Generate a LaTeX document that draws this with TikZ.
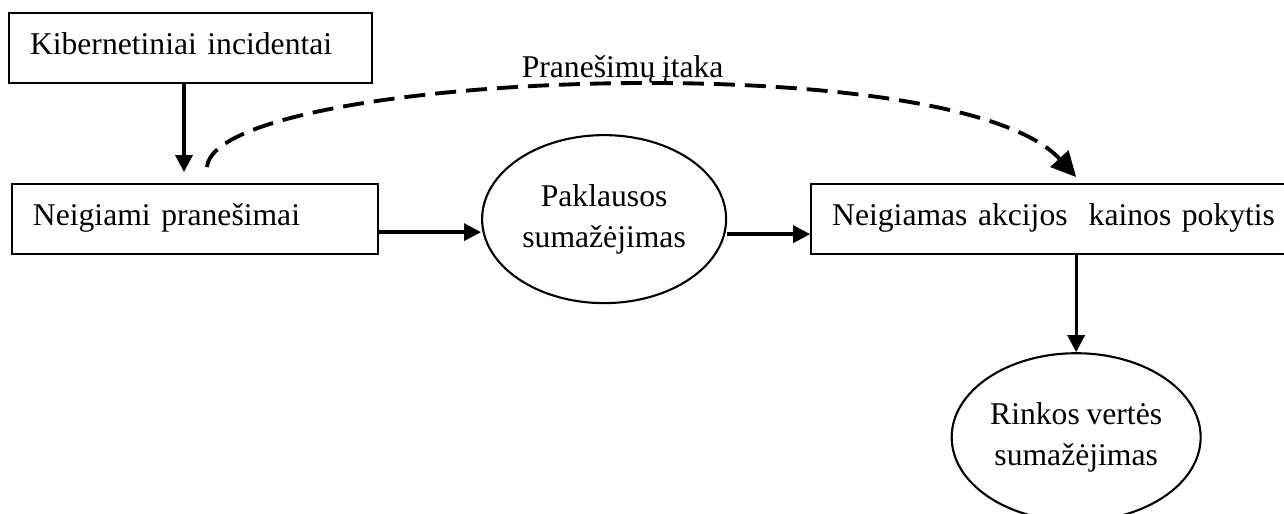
\documentclass[tikz,border=0pt]{standalone}
\usepackage{fontspec}
\setmainfont{Liberation Serif}[WordSpace=0.85]
\usetikzlibrary{arrows.meta,positioning,shapes.geometric}
\tikzset{
  box/.style  = {draw, semithick, rectangle, align=left, text width=32.1mm,
                 inner xsep=2.1mm, minimum height=7mm,
                 text height=6.2pt, text depth=2.4pt},
  oval/.style = {draw, semithick, ellipse, align=center, inner sep=0pt,
                 minimum width=24.4mm, minimum height=16.8mm},
  flow/.style = {-{Triangle[length=1.7mm,width=1.7mm]}, line width=0.95pt},
  hint/.style = {-{Triangle[length=2.5mm,width=2.4mm]}, line width=1.1pt,
                 dash pattern=on 2.1mm off 1mm},
}

\begin{document}
\begin{tikzpicture}[every node/.style={font=\fontsize{9}{11.6}\selectfont}]
  \useasboundingbox (0,0) rectangle (128.4mm,-51.3mm);
  % left column
  \node[box] (kib) at (19.05mm,-4.8mm) {Kibernetiniai incidentai};
  \node[box, text width=32.4mm, below=9.9mm of kib, xshift=0.45mm] (neig)
    {Neigiami pranešimai};
  % middle row
  \node[oval, right=10.2mm of neig] (pakl) {Paklausos\\ sumažėjimas};
  \node[box, text width=47mm, right=8.3mm of pakl] (kaina)
    {Neigiamas akcijos\ \ kainos pokytis};
  \node[oval, minimum width=24.9mm, below=9.7mm of kaina.south west, xshift=26.6mm] (rinka)
    {Rinkos vertės\\ sumažėjimas};
  % flows
  \draw[flow, shorten >=1.1mm] ([xshift=-0.65mm]kib.south)
    -- ([xshift=-0.65mm]kib.south |- neig.north);
  \draw[flow] ([yshift=-1.3mm]neig.east) -- ([yshift=-1.3mm]neig.east -| pakl.west);
  \draw[flow] ([yshift=-1.5mm]pakl.east) -- ([yshift=-1.5mm]pakl.east -| kaina.west);
  \draw[flow] (kaina.south -| rinka.north) -- (rinka.north);
  % influence of the news
  \draw[hint] ([xshift=1.2mm,yshift=1.6mm]neig.north)
    .. controls +(0.8mm,9.5mm) and +(-12.3mm,13.5mm) ..
    ([yshift=0.6mm]kaina.north -| rinka.north)
    node[pos=0.52, above, inner sep=0pt] {Pranešimų įtaka};
\end{tikzpicture}
\end{document}
